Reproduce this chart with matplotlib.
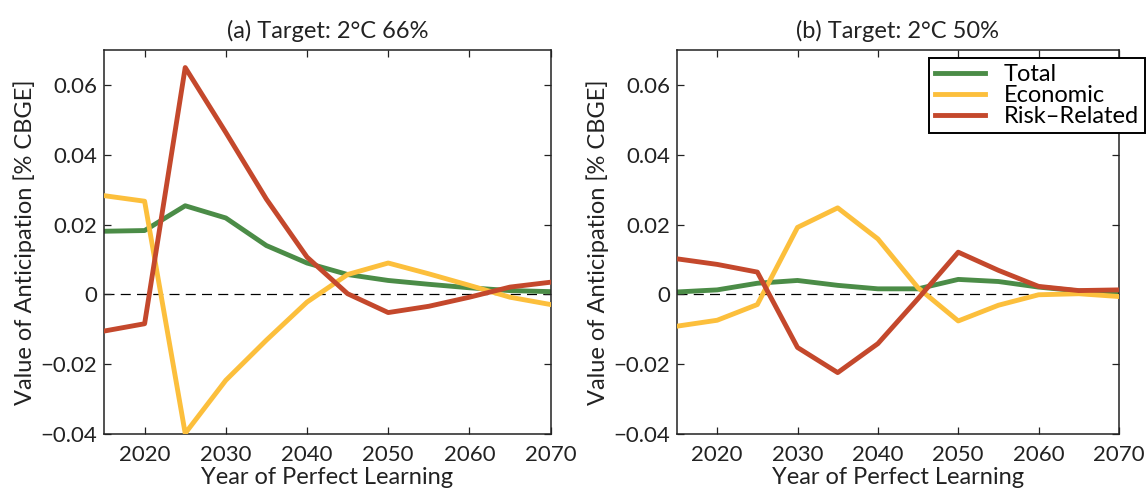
import matplotlib.pyplot as plt
import numpy as np

plt.rcParams['font.family'] = ['Lato', 'DejaVu Sans']

#Years of perfect learning
years = [2015, 2020, 2025, 2030, 2035, 2040, 2045, 2050, 2055, 2060, 2065, 2070]

#Panel (a): 2C 66%
total_a    = [0.0181, 0.0183, 0.0254, 0.0219, 0.0140, 0.0090, 0.0057, 0.0040, 0.0029, 0.0019, 0.0011, 0.0008]
economic_a = [0.0283, 0.0267, -0.0398, -0.0246, -0.0131, -0.0022, 0.0057, 0.0090, 0.0059, 0.0026, -0.0008, -0.0029]
risk_a     = [-0.0105, -0.0084, 0.0650, 0.0464, 0.0273, 0.0107, 0.0002, -0.0052, -0.0034, -0.0008, 0.0021, 0.0035]

#Panel (b): 2C 50%
total_b    = [0.0007, 0.0013, 0.0032, 0.0040, 0.0026, 0.0016, 0.0016, 0.0043, 0.0037, 0.0021, 0.0010, 0.0006]
economic_b = [-0.0091, -0.0074, -0.0029, 0.0192, 0.0248, 0.0159, 0.0019, -0.0076, -0.0031, -0.0001, 0.0002, -0.0006]
risk_b     = [0.0102, 0.0086, 0.0064, -0.0152, -0.0224, -0.0141, -0.0012, 0.0121, 0.0069, 0.0023, 0.0011, 0.0013]

titles = ['(a) Target: 2\u00b0C 66%', '(b) Target: 2\u00b0C 50%']
yticks = [-0.04, -0.02, 0, 0.02, 0.04, 0.06]
ytick_labels = ['\u22120.04', '\u22120.02', '0', '0.02', '0.04', '0.06']
xticks = [2020, 2030, 2040, 2050, 2060, 2070]

green = '#4b8c47'
yellow = '#fcbf3c'
red = '#c4482c'

fig = plt.figure(figsize=(11.48, 4.91), dpi=100, facecolor='w')
ax1 = fig.add_axes([0.0906, 0.116, 0.389, 0.782])
ax2 = fig.add_axes([0.5897, 0.116, 0.385, 0.782])

panels = [(ax1, total_a, economic_a, risk_a), (ax2, total_b, economic_b, risk_b)]
for i, (ax, tot, eco, risk) in enumerate(panels):
  ax.axhline(0, color='k', linewidth=0.9, linestyle=(0, (8, 5)), zorder=1)
  ax.plot(years, tot, color=green, linewidth=3.5, label='Total', zorder=2)
  ax.plot(years, eco, color=yellow, linewidth=3.5, label='Economic', zorder=3)
  ax.plot(years, risk, color=red, linewidth=3.5, label='Risk\u2013Related', zorder=4)
  ax.set_xlim(2015, 2070)
  ax.set_ylim(-0.04, 0.07)
  ax.set_xticks(xticks)
  ax.set_yticks(yticks)
  ax.set_yticklabels(ytick_labels)
  ax.tick_params(direction='in', top=True, right=True, labelsize=16, length=5, width=0.9, colors='#222222', pad=5)
  ax.tick_params(axis='x', pad=8)
  for s in ax.spines.values():
    s.set_linewidth(1.1)
    s.set_color('#222222')
  ax.set_title(titles[i], fontsize=17, color='#222222', pad=9)
  ax.set_xlabel('Year of Perfect Learning', fontsize=17, color='#222222', labelpad=1)
  ax.set_ylabel('Value of Anticipation [% CBGE]', fontsize=17, color='#222222', labelpad=3)

leg = ax2.legend(loc='upper right', bbox_to_anchor=(0.997, 0.882), bbox_transform=fig.transFigure,
                 fontsize=17, fancybox=False, framealpha=1, edgecolor='k', handlelength=2.1,
                 borderpad=0.25, labelspacing=0.0, handletextpad=0.8, borderaxespad=0)
leg.get_frame().set_linewidth(1.4)

plt.savefig('out.png')
